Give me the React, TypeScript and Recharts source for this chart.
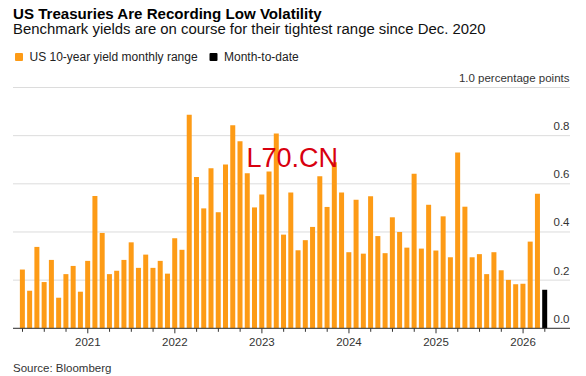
import React from "react";
import { BarChart, Bar, XAxis, YAxis, CartesianGrid } from "recharts";

// Monthly categories: April 2020 .. April 2026
const startYear = 2020;
const startMonth = 4;
const monthCount = 73;
const months: string[] = Array.from({ length: monthCount }, (_, k) => {
  const m = startMonth - 1 + k;
  const y = startYear + Math.floor(m / 12);
  const mm = (m % 12) + 1;
  return `${y}-${mm < 10 ? "0" + mm : mm}`;
});

// US 10-year yield monthly range (percentage points), Apr 2020 .. Mar 2026
const monthlyRange: number[] = [
  0.244, 0.156, 0.338, 0.192, 0.284, 0.127, 0.225, 0.259, 0.152,
  0.28, 0.549, 0.396, 0.225, 0.239, 0.284, 0.357, 0.251, 0.306, 0.251, 0.28, 0.227, 0.374,
  0.326, 0.887, 0.628, 0.498, 0.665, 0.482, 0.68, 0.843, 0.777, 0.644, 0.502, 0.556,
  0.651, 0.809, 0.389, 0.564, 0.324, 0.366, 0.421, 0.631, 0.504, 0.69, 0.564, 0.316,
  0.534, 0.31, 0.548, 0.383, 0.312, 0.461, 0.4, 0.335, 0.642, 0.331, 0.513, 0.323,
  0.465, 0.295, 0.73, 0.505, 0.295, 0.308, 0.225, 0.316, 0.241, 0.201, 0.183, 0.185,
  0.36, 0.559,
];

// Month-to-date (April 2026)
const monthToDate: number[] = [0.16];

const yTicks: number[] = [0, 0.2, 0.4, 0.6, 0.8, 1.0];
const xTicks: number[] = Array.from({ length: 25 }, (_, k) => k * 3);

const data = months.map((month, i) => ({
  i,
  month,
  range: i < monthlyRange.length ? monthlyRange[i] : 0,
  mtd: i >= monthlyRange.length ? monthToDate[i - monthlyRange.length] : 0,
}));

const ORANGE = "#FD9B16";
const FONT = "'Liberation Sans', Arial, Helvetica, sans-serif";

const YTick = (props: any) => {
  const { y, payload } = props;
  const v = payload.value as number;
  const label = v === 1 ? "1.0 percentage points" : v.toFixed(1);
  const right = (props.x as number) - 6.5;
  return (
    <text
      x={right}
      y={y - 5.5}
      textAnchor="end"
      fontFamily={FONT}
      fontSize={11.5}
      fill="#333"
    >
      {label}
    </text>
  );
};

const XTick = (props: any) => {
  const { x, y, payload } = props;
  const idx = payload.value as number;
  const month = months[idx] || "";
  const isYear = month.endsWith("-01");
  return (
    <g>
      <line x1={x} x2={x} y1={y - 8} y2={y - 8 + (isYear ? 5 : 3.5)} stroke="#333" strokeWidth={1} />
      {isYear ? (
        <text x={x} y={y + 9.5} textAnchor="middle" fontFamily={FONT} fontSize={11.5} fill="#333">
          {month.slice(0, 4)}
        </text>
      ) : null}
    </g>
  );
};

export default function App() {
  return (
    <div
      style={{
        position: "absolute",
        left: 0,
        top: 0,
        width: 586,
        height: 376,
        background: "#fff",
        overflow: "hidden",
      }}
    >
      <BarChart
        width={586}
        height={376}
        data={data}
        margin={{ top: 87.5, right: 15, bottom: 27.7, left: 13 }}
      >
        <CartesianGrid vertical={false} stroke="#dcdcdc" strokeWidth={1} />
        <XAxis
          dataKey="i"
          type="number"
          domain={[-1.31, 75.47]}
          ticks={xTicks}
          interval={0}
          height={20}
          axisLine={{ stroke: "#333", strokeWidth: 1 }}
          tickLine={false}
          tick={<XTick />}
          allowDataOverflow
        />
        <YAxis
          orientation="right"
          width={1}
          domain={[0, 1]}
          ticks={yTicks}
          axisLine={false}
          tickLine={false}
          tickMargin={0}
          tick={<YTick />}
          interval={0}
        />
        <Bar dataKey="range" stackId="a" fill={ORANGE} barSize={5} isAnimationActive={false} />
        <Bar dataKey="mtd" stackId="a" fill="#000" barSize={5} isAnimationActive={false} />
      </BarChart>
      <svg
        width={586}
        height={376}
        style={{ position: "absolute", left: 0, top: 0, pointerEvents: "none" }}
      >
        <text x={13} y={18.5} fontFamily={FONT} fontWeight="bold" fontSize={15.1} fill="#000">
          US Treasuries Are Recording Low Volatility
        </text>
        <text x={13} y={33.5} fontFamily={FONT} fontSize={14.9} fill="#111">
          Benchmark yields are on course for their tightest range since Dec. 2020
        </text>
        <rect x={15} y={53} width={8} height={8} rx={1} fill={ORANGE} />
        <text x={29.5} y={61} fontFamily={FONT} fontSize={12} fill="#222">
          US 10-year yield monthly range
        </text>
        <rect x={209.5} y={53} width={8} height={8} rx={1} fill="#000" />
        <text x={224} y={61} fontFamily={FONT} fontSize={12} fill="#222">
          Month-to-date
        </text>
        <text x={13} y={372} fontFamily={FONT} fontSize={11.5} fill="#333">
          Source: Bloomberg
        </text>
        <text x={246.5} y={166.7} fontFamily={FONT} fontSize={27} fill="#D8000F">
          L70.CN
        </text>
      </svg>
    </div>
  );
}
